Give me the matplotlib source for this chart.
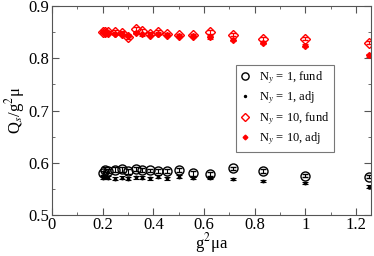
import matplotlib
matplotlib.use('Agg')
import matplotlib.pyplot as plt
from matplotlib.lines import Line2D
from matplotlib.ticker import MultipleLocator

plt.rcParams['font.family'] = ['Liberation Serif', 'DejaVu Serif']
plt.rcParams['mathtext.fontset'] = 'stix'

# g^2 mu a
x = [0.2, 0.208, 0.222, 0.25, 0.278, 0.3, 0.333, 0.357, 0.385, 0.417,
     0.455, 0.5, 0.556, 0.625, 0.714, 0.833, 1.0, 1.25]

ny1_fund = [0.581, 0.587, 0.584, 0.587, 0.588, 0.584, 0.588, 0.586, 0.586, 0.584,
            0.585, 0.587, 0.580, 0.579, 0.590, 0.584, 0.576, 0.574]
ny1_fund_err = [0.004, 0.005, 0.004, 0.005, 0.005, 0.005, 0.004, 0.004, 0.003, 0.004,
                0.004, 0.004, 0.004, 0.004, 0.003, 0.004, 0.002, 0.003]
ny1_adj = [0.572, 0.573, 0.572, 0.570, 0.572, 0.570, 0.573, 0.572, 0.571, 0.574,
           0.571, 0.574, 0.571, 0.572, 0.569, 0.565, 0.562, 0.555]
ny1_adj_err = [0.003, 0.003, 0.003, 0.003, 0.003, 0.003, 0.003, 0.003, 0.003, 0.003,
               0.003, 0.003, 0.002, 0.002, 0.002, 0.002, 0.002, 0.002]

ny10_fund = [0.851, 0.851, 0.850, 0.850, 0.849, 0.841, 0.855, 0.852, 0.847, 0.850,
             0.846, 0.844, 0.844, 0.850, 0.845, 0.837, 0.837, 0.830]
ny10_fund_err = [0.002, 0.002, 0.002, 0.003, 0.003, 0.004, 0.004, 0.004, 0.003, 0.004,
                 0.003, 0.003, 0.003, 0.004, 0.003, 0.004, 0.003, 0.003]
ny10_adj = [0.850, 0.848, 0.849, 0.847, 0.847, 0.843, 0.849, 0.846, 0.845, 0.847,
            0.844, 0.843, 0.842, 0.840, 0.835, 0.830, 0.824, 0.806]
ny10_adj_err = [0.002, 0.002, 0.002, 0.002, 0.003, 0.003, 0.003, 0.003, 0.003, 0.003,
                0.002, 0.002, 0.002, 0.003, 0.003, 0.003, 0.003, 0.003]

labels = ['N$_y$ = 1, fund', 'N$_y$ = 1, adj', 'N$_y$ = 10, fund', 'N$_y$ = 10, adj']

fig = plt.figure(figsize=(3.74, 2.56), dpi=100)
ax = fig.add_axes([0.139, 0.159, 0.854, 0.818])

ekw = dict(elinewidth=0.8, capsize=2, capthick=0.8, linestyle='none')
sty = [dict(marker='o', ms=6.5, mfc='none', mec='black', mew=1.0, color='black'),
       dict(marker='o', ms=1.8, mfc='black', mec='black', color='black'),
       dict(marker='D', ms=5, mfc='none', mec='red', mew=1.0, color='red'),
       dict(marker='D', ms=3, mfc='red', mec='red', color='red')]
series = [(ny1_fund, ny1_fund_err), (ny1_adj, ny1_adj_err),
          (ny10_fund, ny10_fund_err), (ny10_adj, ny10_adj_err)]
for (y, e), s in zip(series, sty):
    ax.errorbar(x, y, yerr=e, **s, **ekw)

ax.set_xlim(0, 1.26)
ax.set_ylim(0.5, 0.9)
ax.xaxis.set_minor_locator(MultipleLocator(0.1))
ax.yaxis.set_minor_locator(MultipleLocator(0.05))
ax.set_xticks([0, 0.2, 0.4, 0.6, 0.8, 1.0, 1.2])
ax.set_xticklabels(['0', '0.2', '0.4', '0.6', '0.8', '1', '1.2'])
ax.set_yticks([0.5, 0.6, 0.7, 0.8, 0.9])
ax.set_yticklabels(['0.5', '0.6', '0.7', '0.8', '0.9'])
ax.tick_params(which='both', direction='in', top=True, right=True, labelsize=12,
               color='#555555')
ax.tick_params(which='major', length=5, pad=2)
ax.tick_params(axis='x', pad=1)
ax.tick_params(which='minor', length=2.5)
for sp in ax.spines.values():
    sp.set_color('#555555')

ax.set_xlabel('g$^2$μa', fontsize=12, labelpad=-1)
ax.set_ylabel('Q$_s$/g$^2$μ', fontsize=12, labelpad=1)

handles = [Line2D([], [], linestyle='none', **s) for s in sty]
leg = ax.legend(handles, labels, loc='upper left', bbox_to_anchor=(0.576, 0.718),
                fontsize=9, frameon=True, fancybox=False, handlelength=0.8,
                handletextpad=0.7, borderpad=0.35, labelspacing=0.3,
                borderaxespad=0, markerscale=0.8)
leg.get_frame().set_edgecolor('#555555')
leg.get_frame().set_linewidth(0.8)

fig.savefig('out.png', dpi=100)
